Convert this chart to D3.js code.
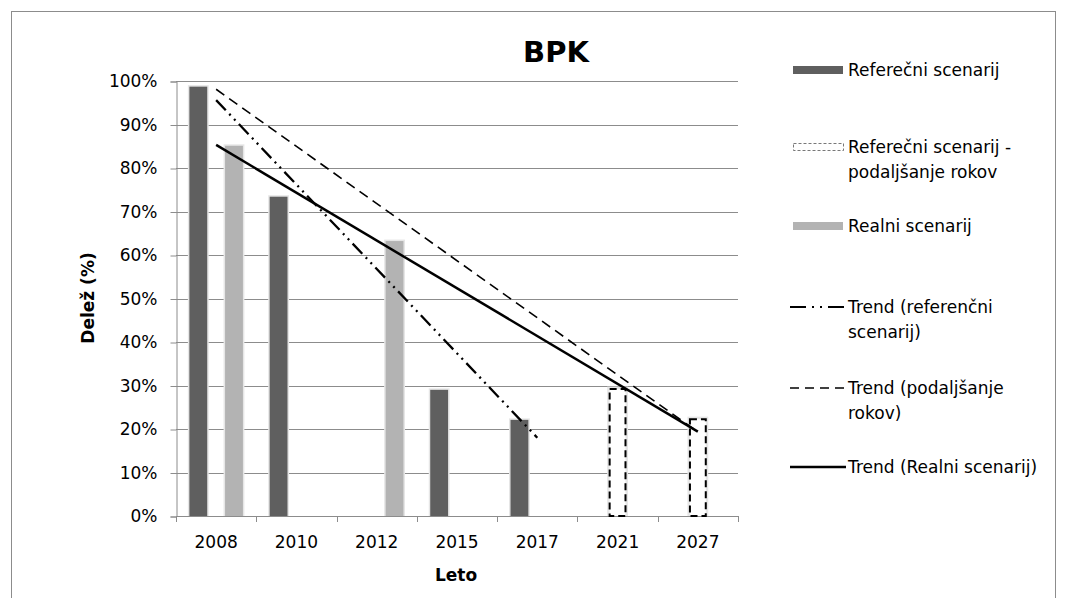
<!DOCTYPE html>
<html>
<head>
  <title>BPK</title>
  <script src="https://d3js.org/d3.v7.min.js"></script>
  <style>
    body { margin: 0; background: #fff; }
    svg { font-family: "DejaVu Sans", sans-serif; }
    .grid line { stroke: #8c8c8c; stroke-width: 1px; }
  </style>
</head>
<body>
  <svg width="1066" height="598"></svg>

  <script>
    // categories and values (percent)
    const years = ['2008', '2010', '2012', '2015', '2017', '2021', '2027'];
    const referencni = [98.7, 73.4, null, 29.0, 22.1, null, null];
    const podaljsanje = [null, null, null, null, null, 29.4, 22.5];
    const realni = [85.1, null, 63.2, null, null, null, null];

    // trend line ends
    const trendReferencni = [['2008', 95.6], ['2017', 18.0]];
    const trendPodaljsanje = [['2008', 98.1], ['2027', 19.3]];
    const trendRealni = [['2008', 85.3], ['2027', 19.4]];

    const yTicks = [0, 10, 20, 30, 40, 50, 60, 70, 80, 90, 100];

    const svg = d3.select("svg");
    const plot = { left: 176, right: 738, top: 81, bottom: 516 };

    // outer chart border
    svg.append("rect")
      .attr("x", 11.5).attr("y", 11.5)
      .attr("width", 1044).attr("height", 600)
      .attr("fill", "none").attr("stroke", "#8c8c8c");

    const x0 = d3.scaleBand()
      .domain(years)
      .range([plot.left, plot.right])
      .padding(0);

    const x1 = d3.scaleBand()
      .domain(['ref', 'pod', 'real'])
      .range([0, x0.bandwidth()])
      .paddingInner(0)
      .paddingOuter(0.75);

    const y = d3.scaleLinear()
      .domain([0, 100])
      .range([plot.bottom, plot.top]);

    // gridlines
    svg.append("g")
      .attr("class", "grid")
      .selectAll("line")
      .data(yTicks.filter(d => d > 0))
      .join("line")
      .attr("x1", plot.left).attr("x2", plot.right)
      .attr("y1", d => Math.round(y(d)) + 0.5)
      .attr("y2", d => Math.round(y(d)) + 0.5);

    // y axis
    const yAxis = svg.append("g")
      .attr("transform", `translate(${plot.left + 0.5},0.5)`)
      .call(d3.axisLeft(y).tickValues(yTicks).tickFormat(d => d + '%').tickSize(6).tickPadding(13));
    yAxis.select(".domain").attr("stroke", "#8c8c8c");
    yAxis.selectAll(".tick line").attr("stroke", "#8c8c8c");
    yAxis.selectAll("text").attr("font-size", 17).attr("fill", "#000")
      .attr("font-family", "DejaVu Sans");

    // x axis: labels centred, ticks at category borders
    const xAxis = svg.append("g")
      .attr("transform", `translate(0,${plot.bottom + 0.5})`)
      .call(d3.axisBottom(x0).tickSize(0).tickPadding(19));
    xAxis.select(".domain").remove();
    xAxis.selectAll("text").attr("font-size", 17).attr("fill", "#000")
      .attr("font-family", "DejaVu Sans");

    svg.append("line")
      .attr("x1", plot.left).attr("x2", plot.right)
      .attr("y1", plot.bottom + 0.5).attr("y2", plot.bottom + 0.5)
      .attr("stroke", "#8c8c8c");

    svg.append("g")
      .selectAll("line")
      .data(years.concat(['end']))
      .join("line")
      .attr("x1", d => Math.round(d === 'end' ? plot.right : x0(d)) + 0.5)
      .attr("x2", d => Math.round(d === 'end' ? plot.right : x0(d)) + 0.5)
      .attr("y1", plot.bottom).attr("y2", plot.bottom + 6)
      .attr("stroke", "#8c8c8c");

    // bars
    const bars = [];
    years.forEach((yr, i) => {
      if (referencni[i] != null) bars.push({ yr, key: 'ref', v: referencni[i] });
      if (podaljsanje[i] != null) bars.push({ yr, key: 'pod', v: podaljsanje[i] });
      if (realni[i] != null) bars.push({ yr, key: 'real', v: realni[i] });
    });

    const barG = svg.append("g");

    // soft glow behind bars
    barG.selectAll("rect.glow")
      .data(bars)
      .join("rect")
      .attr("class", "glow")
      .attr("x", d => x0(d.yr) + x1(d.key) - 1.5)
      .attr("y", d => y(d.v) - 1.5)
      .attr("width", x1.bandwidth() + 3)
      .attr("height", d => y(0) - y(d.v) + 1.5)
      .attr("fill", "#e6e6e6");

    barG.selectAll("rect.bar")
      .data(bars)
      .join("rect")
      .attr("class", "bar")
      .attr("x", d => x0(d.yr) + x1(d.key) + (d.key === 'pod' ? 1 : 0))
      .attr("y", d => y(d.v) + (d.key === 'pod' ? 1 : 0))
      .attr("width", d => x1.bandwidth() - (d.key === 'pod' ? 2 : 0))
      .attr("height", d => y(0) - y(d.v) - (d.key === 'pod' ? 1 : 0))
      .attr("fill", d => d.key === 'ref' ? '#5f5f5f' : d.key === 'real' ? '#b3b3b3' : '#fff')
      .attr("stroke", d => d.key === 'pod' ? '#000' : 'none')
      .attr("stroke-width", 2)
      .attr("stroke-dasharray", d => d.key === 'pod' ? '7,4' : null);

    // trend lines
    const line = d3.line()
      .x(d => x0(d[0]) + x0.bandwidth() / 2)
      .y(d => y(d[1]));

    const trends = [
      { data: trendPodaljsanje, dash: '10,6', width: 1.6 },
      { data: trendReferencni, dash: '14,5,2,5,2,5', width: 2.3 },
      { data: trendRealni, dash: null, width: 2.5 }
    ];

    svg.append("g")
      .selectAll("path")
      .data(trends)
      .join("path")
      .attr("d", d => line(d.data))
      .attr("fill", "none")
      .attr("stroke", "#000")
      .attr("stroke-width", d => d.width)
      .attr("stroke-dasharray", d => d.dash);

    // titles
    svg.append("text")
      .attr("x", 556).attr("y", 62)
      .attr("text-anchor", "middle")
      .attr("font-size", 29).attr("font-weight", "bold")
      .text("BPK");

    svg.append("text")
      .attr("transform", "translate(94,298) rotate(-90)")
      .attr("text-anchor", "middle")
      .attr("font-size", 17).attr("font-weight", "bold")
      .text("Delež (%)");

    svg.append("text")
      .attr("x", 456).attr("y", 581)
      .attr("text-anchor", "middle")
      .attr("font-size", 17).attr("font-weight", "bold")
      .text("Leto");

    // legend
    const legendItems = [
      { type: 'rect', fill: '#5f5f5f', y: 70, lines: ['Referečni scenarij'] },
      { type: 'dashrect', y: 147, lines: ['Referečni scenarij -', 'podaljšanje rokov'] },
      { type: 'rect', fill: '#b3b3b3', y: 226, lines: ['Realni scenarij'] },
      { type: 'line', dash: '16,6,2,6,2,6', width: 2, y: 307, lines: ['Trend (referenčni', 'scenarij)'] },
      { type: 'line', dash: '9,6', width: 1.6, y: 388, lines: ['Trend (podaljšanje', 'rokov)'] },
      { type: 'line', dash: null, width: 2.5, y: 467, lines: ['Trend (Realni scenarij)'] }
    ];

    const lg = svg.append("g");
    legendItems.forEach(it => {
      if (it.type === 'rect') {
        lg.append("rect")
          .attr("x", 793).attr("y", it.y - 4)
          .attr("width", 50).attr("height", 8)
          .attr("fill", it.fill);
      } else if (it.type === 'dashrect') {
        lg.append("rect")
          .attr("x", 793.5).attr("y", it.y - 3.5)
          .attr("width", 50).attr("height", 7)
          .attr("fill", "#fff").attr("stroke", "#555")
          .attr("stroke-width", 0.8).attr("stroke-dasharray", "3,2");
      } else {
        lg.append("line")
          .attr("x1", 790).attr("x2", 846)
          .attr("y1", it.y).attr("y2", it.y)
          .attr("stroke", "#000")
          .attr("stroke-width", it.width)
          .attr("stroke-dasharray", it.dash);
      }
      it.lines.forEach((t, k) => {
        lg.append("text")
          .attr("x", 848).attr("y", it.y + 6 + k * 25)
          .attr("font-size", 17)
          .text(t);
      });
    });
  </script>
</body>
</html>
